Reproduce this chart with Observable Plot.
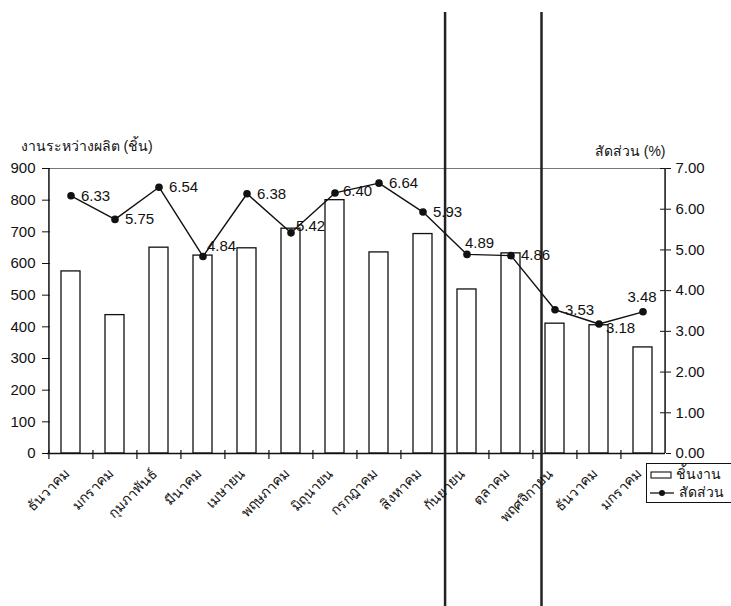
<!DOCTYPE html>
<html>
<head>
<meta charset="utf-8">
<script src="https://cdn.jsdelivr.net/npm/d3@7"></script>
<script src="https://cdn.jsdelivr.net/npm/@observablehq/plot@0.6"></script>
<style>
  body { margin: 0; background: #fff; }
  #chart { position: relative; width: 731px; height: 606px; overflow: hidden;
           font-family: "Liberation Sans", Arial, "Noto Sans", sans-serif; }
  #chart svg { position: absolute; left: 0; top: 0; }
</style>
</head>
<body>
<div id="chart"></div>
<script>
// Months (the series runs December to the following January)
const months = ["ธันวาคม", "มกราคม", "กุมภาพันธ์", "มีนาคม", "เมษายน", "พฤษภาคม", "มิถุนายน",
                "กรกฎาคม", "สิงหาคม", "กันยายน", "ตุลาคม", "พฤศจิกายน", "ธันวาคม", "มกราคม"];
// Work in process, pieces (left axis)
const pieces = [575, 437, 650, 625, 648, 710, 800, 635, 693, 518, 632, 410, 405, 335];
// Share, percent (right axis)
const ratio = [6.33, 5.75, 6.54, 4.84, 6.38, 5.42, 6.40, 6.64, 5.93, 4.89, 4.86, 3.53, 3.18, 3.48];
// Axis ticks
const leftTicks = [0, 100, 200, 300, 400, 500, 600, 700, 800, 900];
const rightTicks = [0, 1, 2, 3, 4, 5, 6, 7];
// Texts
const leftTitle = "งานระหว่างผลิต (ชิ้น)";
const rightTitle = "สัดส่วน (%)";
const legendLabels = ["ชิ้นงาน", "สัดส่วน"];

const W = 731, H = 606;
const mL = 47, mR = 66, mT = 168, mB = 153;
const n = months.length;
const step = (W - mL - mR) / n;
const frameW = W - mL - mR, frameH = H - mT - mB;
const yMax = leftTicks[leftTicks.length - 1];
const rMax = rightTicks[rightTicks.length - 1];
const toY = r => r * yMax / rMax;   // percent -> left-axis units

const rows = months.map((m, i) => ({i, month: m, pieces: pieces[i], ratio: ratio[i], ry: toY(ratio[i])}));

// value label placement around each point
const place = rows.map(() => ({dx: 10, dy: 0, anchor: "start"}));
Object.assign(place[3], {dx: 4, dy: -10});
Object.assign(place[5], {dx: 5, dy: -7});
Object.assign(place[6], {dx: 8, dy: -2});
Object.assign(place[9], {dx: -2, dy: -11});
Object.assign(place[12], {dx: 7, dy: 4});
Object.assign(place[13], {dx: -1, dy: -15, anchor: "middle"});

const labelMarks = rows.map((r, k) => Plot.text(rows, {
  filter: d => d.i === k, x: "i", y: "ry", text: d => d.ratio.toFixed(2),
  dx: place[k].dx, dy: place[k].dy, textAnchor: place[k].anchor,
  fontSize: 15, fill: "#111"
}));

const plot = Plot.plot({
  width: W, height: H,
  marginLeft: mL, marginRight: mR, marginTop: mT, marginBottom: mB,
  style: {fontFamily: '"Liberation Sans", Arial, sans-serif', fontSize: "15px", color: "#111", background: "transparent", overflow: "visible"},
  x: {type: "band", domain: d3.range(n), paddingInner: 0.57, paddingOuter: 0.285},
  y: {domain: [0, yMax]},
  marks: [
    // top border of the plot area
    Plot.ruleY([yMax], {stroke: "#777", strokeWidth: 1}),
    Plot.barY(rows, {x: "i", y: "pieces", fill: "white", stroke: "#111", strokeWidth: 1.3}),
    // axis lines
    Plot.ruleY([0], {stroke: "#111", strokeWidth: 1.5}),
    Plot.ruleX([0], {x: d => d, dx: -step / 2, stroke: "#111", strokeWidth: 1.5}),
    Plot.ruleX([n - 1], {x: d => d, dx: step / 2, stroke: "#111", strokeWidth: 1.5}),
    // category separators below the baseline
    Plot.tickX(d3.range(n), {x: d => d, dx: -step / 2, stroke: "#111", strokeWidth: 1.2, insetTop: frameH - 3, insetBottom: -6}),
    // inward halves of the value ticks
    Plot.tickY(leftTicks, {y: d => d, stroke: "#111", insetRight: frameW - 3}),
    Plot.tickY(rightTicks.map(toY), {y: d => d, stroke: "#111", insetLeft: frameW - 5}),
    // period dividers
    Plot.ruleX([8], {x: d => d, dx: step / 2, stroke: "#222", strokeWidth: 2.5, insetTop: -156, insetBottom: -mB}),
    Plot.ruleX([11], {x: d => d, dx: -13.5, stroke: "#222", strokeWidth: 2.5, insetTop: -156, insetBottom: -mB}),
    // share line
    Plot.line(rows, {x: "i", y: "ry", stroke: "#111", strokeWidth: 1.4}),
    Plot.dot(rows, {x: "i", y: "ry", r: 3.8, fill: "#111"}),
    ...labelMarks,
    // axes
    Plot.axisY({ticks: leftTicks, tickSize: 5, tickPadding: 7, label: null, fontSize: 15}),
    Plot.axisY({anchor: "right", ticks: rightTicks.map(toY), tickFormat: d => (d * rMax / yMax).toFixed(2),
                tickSize: 5, tickPadding: 5, label: null, fontSize: 15}),
    Plot.axisX({tickFormat: i => months[i], tickRotate: -45, tickSize: 0, tickPadding: 18, dx: -4, label: null, fontSize: 14}),
    // axis titles
    Plot.text([leftTitle], {frameAnchor: "top-left", dx: -27, dy: -27, textAnchor: "start", fontSize: 14}),
    Plot.text([rightTitle], {frameAnchor: "top-right", dx: 0, dy: -22, textAnchor: "end", fontSize: 14})
  ]
});
document.getElementById("chart").appendChild(plot);

// legend box at the lower right
const lg = d3.select("#chart").append("svg")
  .attr("width", W).attr("height", H)
  .style("pointer-events", "none");
const gx = 646, gy = 463;
lg.append("rect").attr("x", gx + 0.5).attr("y", gy + 0.5).attr("width", 100).attr("height", 39)
  .attr("fill", "white").attr("stroke", "#111");
lg.append("rect").attr("x", gx + 5).attr("y", gy + 9).attr("width", 20).attr("height", 6)
  .attr("fill", "white").attr("stroke", "#111").attr("stroke-width", 1.1);
lg.append("text").attr("x", gx + 30).attr("y", gy + 12).attr("dominant-baseline", "middle")
  .attr("font-size", 14).attr("fill", "#111").text(legendLabels[0]);
lg.append("line").attr("x1", gx + 4).attr("x2", gx + 28).attr("y1", gy + 30).attr("y2", gy + 30)
  .attr("stroke", "#111").attr("stroke-width", 1.3);
lg.append("circle").attr("cx", gx + 16).attr("cy", gy + 30).attr("r", 3).attr("fill", "#111");
lg.append("text").attr("x", gx + 33).attr("y", gy + 30).attr("dominant-baseline", "middle")
  .attr("font-size", 14).attr("fill", "#111").text(legendLabels[1]);
</script>
</body>
</html>
